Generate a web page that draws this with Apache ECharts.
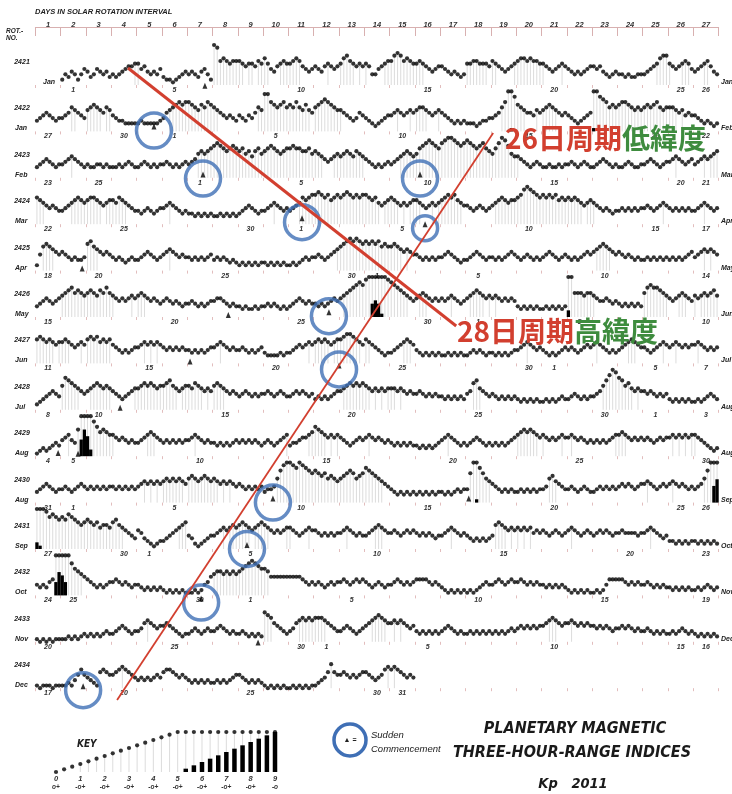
<!DOCTYPE html>
<html><head><meta charset="utf-8">
<script src="https://cdn.jsdelivr.net/npm/echarts@6/dist/echarts.min.js"></script>
<style>html,body{margin:0;padding:0;background:#fff;}#c{width:732px;height:794px;}</style>
</head><body><div id="c"></div>
<script>
// ---------------- DATA ----------------
const rotations = [2421,2422,2423,2424,2425,2426,2427,2428,2429,2430,2431,2432,2433,2434];
const startDates = ['2010-12-31','2011-01-27','2011-02-23','2011-03-22','2011-04-18','2011-05-15','2011-06-11',
  '2011-07-08','2011-08-04','2011-08-31','2011-09-27','2011-10-24','2011-11-20','2011-12-17'];
const dayNumbers = ['1','2','3','4','5','6','7','8','9','10','11','12','13','14','15','16','17','18','19','20','21','22','23','24','25','26','27'];
const monthNames = ['Jan','Feb','Mar','Apr','May','Jun','Jul','Aug','Sep','Oct','Nov','Dec'];
// Kp in thirds: 0=0o 1=0+ 2=1- 3=1o ... f=5o ... r=9o ; '.' = no data. 8 three-hour values per day.
const KP_CODES = '0123456789abcdefghijklmnopqr';
const kp2421 = "........ 24354246 53465453 43456778 86754546 32212345 45435642 fe9a9899 98788798 a8657898 89a97656 76578767 8ab98787 87446789 9bcb9a98 89876567 76545434 88998887 98765678 9aa9a998 87656787 65454567 76754345 44343344 45678abb 87678986 56789754";
const kp2422 = "45676545 56798765 89a98798 65443333 34333334 5789abab ba98a9ba 98765654 65465798 eeba9ab9 a9b98a87 9abcba98 87654576 54323456 67876787 89987678 76543434 33323445 5679bfgd a9877687 89a98767 65434567 gfdcb9a9 abba9898 9a9ab989 99878676 65434323";
const kp2423 = "45676545 56787654 54455454 44545654 45654545 56545456 5679a9ab cdcbabcb ab9a8ab9 abcba9ab bcbbaab9 a9876789 89a98a98 76545456 56789a98 9bcdedcb deffedcd edcbcdba 9bdfec98 87654565 44544545 56545654 45676545 44565445 56765456 67876567 5678789a";
const kp2424 = "a9876765 56789a98 9aa98789 98a98765 54565456 67876545 44343434 33434343 45676545 56787656 5678a9ab bcbab9ab abcbabab ba9a8789 a9878789 98767878 9abab987 76567656 789a9899 abdedcba babab9a9 a9a98789 87656545 56565656 67656787 65656565 56787656";
const kp2425 = "269a9876 76545445 ab987676 54543454 45676545 67876565 54545456 45454343 23232323 32323232 23234545 56545678 9abcbcba babab9a9 9a987876 65454545 56765434 45676545 54545676 54565454 56765456 54545676 789a9876 76565454 45454545 45454567 56787876";
const kp2426 = "45676567 89ab9a98 9a98a9b9 87676787 89876765 67656545 56545456 67765454 43433434 45454343 45676565 54545676 789abcdc efjkjgfe dcba9876 78987676 76787656 789a9878 78767676 43434343 34343434 hf999899 87667656 54545454 9bcbba98 76789876 878989a8";
const kp2427 = "9a989878 89876787 9a9a8989 76545456 67878787 65656565 54545456 67876565 56545456 43333434 45676787 89898789 9abba987 98765434 45678987 54343434 33434343 34545434 43434345 56787656 54343456 56545676 78765454 56789876 65456787 67876767 78765656";
const kp2428 = "23456765 9cba9876 789a9898 76545678 89a9a989 9ab98789 98a98787 9a987676 56765656 67656765 56767656 45454567 789a9a9a 98787878 88787676 67656565 54545454 67ab8765 65454545 43434343 34343454 45654545 5679bdfe cb9a8787 76765656 43434343 34345654";
const kp2429 = "12323454 67865akn lhdb9a98 87676565 56789876 56565656 67876565 54545456 56565654 56545678 45567789 ba987878 76545676 78767656 54545454 43434345 67876545 45676545 45454567 89a9a987 87676787 78767656 56565678 89876767 67656767 78787878 87654323";
const kp2430 = "45676545 56545676 56565656 65656565 67878787 89898987 9a989a98 98787876 76565656 45569cef fedfedcb cbab9a98 9abcb9ab dcba9876 54343434 34343434 43434545 5bfgdb98 76545454 45454545 569a8765 56545654 45656565 67676567 78765676 78767656 5679cfkm";
const kp2431 = "hgfecdcb cbdcba9a ba9a8998 ab987654 76432123 3456789a 54212345 56787898 9a98789a 98767678 87656787 76565656 67876565 56789876 67656767 65656545 56787656 54343434 59a98787 87878676 76567656 78765676 56767656 67666656 67876545 33232323 32323232";
const kp2432 = "434356jm ljfca987 65434345 56545434 43232323 21212121 11212457 89989898 9abcdcba a9777777 77776545 45434545 56545656 54345434 45654545 66665454 32121212 12123454 45654565 56545454 43434343 21212121 12124666 66545454 45434343 32323232 23234323";
const kp2433 = "10101011 11212123 23232343 34565434 45787656 67654323 34543454 45654343 34323232 ba976543 45789898 99987654 45654345 6789a987 78787656 43434343 45654343 34343434 34343454 56565656 67898767 78767676 65656545 56565454 45434343 34345434 32323232";
const kp2434 = "10111011 11213575 43216765 56787654 34343454 67765454 32323232 23232345 54323232 10101010 01010101 12346965 56545456 65434578 78765454 ........ ........ ........ ........ ........ ........ ........ ........ ........ ........ ........ ........";
const kpRows = [kp2421,kp2422,kp2423,kp2424,kp2425,kp2426,kp2427,kp2428,kp2429,kp2430,kp2431,kp2432,kp2433,kp2434];
// Sudden commencements: [row index, 3-hour position in rotation, level, circle size (0 = no circle)]
const sscEvents = [
  [1,37.5,0.1,35],[2,53.0,-0.1,35],[2,121.6,-0.1,35],[3,84.3,0.25,35],[3,123.2,-0.5,25],
  [5,92.8,0.1,35],[6,96.0,-0.75,35],[9,75.1,0,35],[10,66.9,0,35],[11,52.4,-0.9,35],[13,15.1,-0.25,35],
  [0,53.6,-0.6,0],[4,14.8,-0.25,0],[5,61,-0.25,0],[6,48.9,-0.25,0],[7,26.8,-0.25,0],
  [8,7.2,-0.1,0],[8,13.5,-0.2,0],[9,137,0,0],[12,70.4,-0.6,0]
];
// Recurrence trend lines: [day position, row position]
const trend28 = [[3.66,0.13],[16.63,5.69]];
const trend26 = [[3.23,13.75],[18.09,1.53]];
// Key
const keyCodes = '0123456789abcdefghijklmnopqr';
const keyTickLabels = ['0','1','2','3','4','5','6','7','8','9'];

// ---------------- LAYOUT ----------------
const LEFT = 35.35, RIGHT = 13.35, ROW0 = 62, ROWH = 46.4;
const F = "'Liberation Sans', Arial, sans-serif";
const FN = "'Liberation Sans Narrow','DejaVu Sans Condensed','Liberation Sans',sans-serif";
const CJK = "'Noto Sans CJK JP','Noto Sans CJK SC',sans-serif";
const RED = '#d23f2f', GREEN = '#3e8c3e', BLUE = '#3f6fb5';

function decodeRow(s){
  return Array.from(s.replace(/\s+/g,'')).map(ch => ch === '.' ? null : KP_CODES.indexOf(ch)/3);
}
function makeStem(barW, minStem){
  return function(params, api){
    const x = api.value(0), kp = api.value(1);
    const base = api.coord([x, 0]);
    const children = [];
    if (kp >= minStem) {
      const top = api.coord([x, Math.min(kp,5)]);
      children.push({type:'line', shape:{x1:base[0],y1:base[1],x2:top[0],y2:top[1]}, style:{stroke:'#cdcdcd', lineWidth:0.7}});
    }
    if (kp > 5) {
      const t = api.coord([x, (kp-5)*1.25]);
      children.push({type:'rect', shape:{x:base[0]-barW/2, y:t[1], width:barW, height:base[1]-t[1]}, style:{fill:'#000'}});
    }
    return {type:'group', children};
  };
}
function txt(x, y, text, size, opts){
  opts = opts || {};
  return {type:'text', x:x, y:y, z:50, silent:true, style:Object.assign({
    text:text, fontSize:size, fontFamily:opts.family || F, fontWeight:opts.weight || 'bold',
    fontStyle:opts.style || 'italic', fill:opts.fill || '#222',
    align:opts.align || 'left', textAlign:opts.align || 'left',
    verticalAlign:'middle', textVerticalAlign:'middle'
  }, opts.extra || {})};
}

const grids=[], xAxes=[], yAxes=[], series=[], graphics=[];
const DAY = 86400000;

kpRows.forEach((rowStr, r) => {
  const L = ROW0 + ROWH*r;
  const vals = decodeRow(rowStr);
  let first = 27, last = -1;
  for (let c=0;c<27;c++){ let has=false; for(let k=0;k<8;k++) if(vals[c*8+k]!=null) has=true; if(has){ if(c<first) first=c; last=c; } }
  const start = new Date(startDates[r]+'T00:00:00Z').getTime();
  const dateOf = c => new Date(start + c*DAY);
  const labels = dayNumbers.map((_, c) => {
    if (c < first || c > last) return '';
    const d = dateOf(c).getUTCDate();
    return (c===first || c===last || d%5===0 || d===1) ? String(d) : '';
  });
  grids.push({left:LEFT, right:RIGHT, top:L-25, height:48});
  const gi = grids.length-1;
  xAxes.push({type:'value', gridIndex:gi, min:0, max:216, show:false, position:'top'});
  const xv = xAxes.length-1;
  xAxes.push({type:'category', gridIndex:gi, position:'bottom', data:dayNumbers, boundaryGap:true,
    axisLine:{show:false},
    axisTick:{show:true, interval:0, length:3, lineStyle:{color:'#e2bdbd', width:1}},
    axisLabel:{interval:0, margin:1.5, fontSize:7, fontStyle:'italic', fontWeight:'bold', fontFamily:F, color:'#333',
      formatter:(v,i)=>labels[i]},
    splitLine:{show:false}});
  yAxes.push({type:'value', gridIndex:gi, min:0, max:6, show:false});
  const yi = yAxes.length-1;
  const pts = [];
  vals.forEach((k,i)=>{ if(k!=null) pts.push([i+0.5, k]); });
  series.push({type:'custom', xAxisIndex:xv, yAxisIndex:yi, renderItem:makeStem(3.3, 2.6), data:pts,
    encode:{x:0,y:1}, clip:false, silent:true, z:1, animation:false});
  series.push({type:'scatter', xAxisIndex:xv, yAxisIndex:yi, data:pts.map(p=>[p[0], Math.min(p[1],5)]),
    symbol:'circle', symbolSize:4.2, itemStyle:{color:'#000'}, silent:true, clip:false, z:3, animation:false});
  const ev = sscEvents.filter(e=>e[0]===r);
  if (ev.length){
    series.push({type:'scatter', xAxisIndex:xv, yAxisIndex:yi, data:ev.map(e=>[e[1], e[2]+0.5]),
      symbol:'triangle', symbolSize:[5,6], itemStyle:{color:'#000'}, silent:true, clip:false, z:4, animation:false});
    const circ = ev.filter(e=>e[3]>0);
    if (circ.length) series.push({type:'scatter', xAxisIndex:xv, yAxisIndex:yi,
      data:circ.map(e=>({value:[e[1], e[2]], symbolSize:e[3]})),
      symbol:'circle', itemStyle:{color:'rgba(0,0,0,0)', borderColor:BLUE, borderWidth:3.5},
      silent:true, clip:false, z:6, animation:false});
  }
  // row texts
  graphics.push(txt(22, L, String(rotations[r]), 7, {align:'center'}));
  graphics.push(txt(first===0 ? 15 : 43, L+20, monthNames[dateOf(first).getUTCMonth()], 7));
  if (last === 26) graphics.push(txt(721, L+20, monthNames[dateOf(26).getUTCMonth()], 7));
});

// header axis
grids.push({left:LEFT, right:RIGHT, top:17, height:10});
let gi = grids.length-1;
xAxes.push({type:'category', gridIndex:gi, position:'top', data:dayNumbers, boundaryGap:true,
  axisLine:{show:true, lineStyle:{color:'#d8b0b0', width:1}},
  axisTick:{show:true, inside:true, interval:0, length:9, lineStyle:{color:'#d8b0b0'}},
  axisLabel:{inside:true, interval:0, margin:3.5, fontSize:7.5, fontStyle:'italic', fontWeight:'bold', fontFamily:F, color:'#333'}});
yAxes.push({type:'value', gridIndex:gi, show:false});
series.push({type:'scatter', xAxisIndex:xAxes.length-1, yAxisIndex:yAxes.length-1, data:[], silent:true});

// overlay for trend lines
grids.push({left:LEFT, right:RIGHT, top:ROW0, height:ROWH*14});
gi = grids.length-1;
xAxes.push({type:'value', gridIndex:gi, min:0, max:27, show:false});
yAxes.push({type:'value', gridIndex:gi, min:0, max:14, inverse:true, show:false});
const ox = xAxes.length-1, oy = yAxes.length-1;
series.push({type:'line', xAxisIndex:ox, yAxisIndex:oy, data:trend28, symbol:'none', silent:true, clip:false,
  lineStyle:{color:RED, width:3}, z:8, animation:false});
series.push({type:'line', xAxisIndex:ox, yAxisIndex:oy, data:trend26, symbol:'none', silent:true, clip:false,
  lineStyle:{color:RED, width:1.8}, z:8, animation:false});

// key
grids.push({left:56, right:457, top:724, height:48});
gi = grids.length-1;
xAxes.push({type:'value', gridIndex:gi, min:0, max:9, interval:1,
  axisLine:{show:false}, axisTick:{show:false}, splitLine:{show:false},
  axisLabel:{margin:2, color:'#333', formatter:(v)=>{
      const i = Math.round(v); const sub = i===0 ? 'o+' : (i===9 ? '-o' : '-o+');
      return '{a|'+keyTickLabels[i]+'}\n{b|'+sub+'}'; },
    rich:{a:{fontSize:7.5, fontWeight:'bold', fontStyle:'italic', fontFamily:F, color:'#333', lineHeight:9},
          b:{fontSize:6.5, fontWeight:'bold', fontStyle:'italic', fontFamily:F, color:'#333', lineHeight:8}}}});
yAxes.push({type:'value', gridIndex:gi, min:0, max:6, show:false});
const kx = xAxes.length-1, ky = yAxes.length-1;
const keyVals = Array.from(keyCodes).map(ch => KP_CODES.indexOf(ch)/3);
series.push({type:'custom', xAxisIndex:kx, yAxisIndex:ky, renderItem:makeStem(4.5, 1), data:keyVals.map(v=>[v,v]),
  encode:{x:0,y:1}, clip:false, silent:true, z:1, animation:false});
series.push({type:'scatter', xAxisIndex:kx, yAxisIndex:ky, data:keyVals.map(v=>[v, Math.min(v,5)]),
  symbolSize:4.2, itemStyle:{color:'#000'}, silent:true, clip:false, z:3, animation:false});

// static texts
graphics.push(txt(35, 12, 'DAYS IN SOLAR ROTATION INTERVAL', 7.5));
graphics.push({type:'text', x:6, y:28, z:50, silent:true, style:{text:'ROT.-\nNO.', fontSize:6.5, lineHeight:6.5,
  fontFamily:F, fontWeight:'bold', fontStyle:'italic', fill:'#222', align:'left', verticalAlign:'top'}});
graphics.push(txt(77, 744, 'KEY', 10, {family:FN}));
graphics.push({type:'circle', z:50, silent:true, shape:{cx:350, cy:740, r:16}, style:{fill:'none', stroke:BLUE, lineWidth:3.5}});
graphics.push(txt(350, 740, '\u25B2 =', 7, {align:'center', style:'normal'}));
graphics.push(txt(371, 735, 'Sudden', 9.5, {weight:'normal'}));
graphics.push(txt(371, 749, 'Commencement', 9.5, {weight:'normal'}));
graphics.push(txt(575, 729, 'PLANETARY MAGNETIC', 16, {family:FN, align:'center', fill:'#1a1a1a'}));
graphics.push(txt(572, 753, 'THREE-HOUR-RANGE INDICES', 16, {family:FN, align:'center', fill:'#1a1a1a'}));
graphics.push(txt(573, 784, 'Kp   2011', 14.5, {family:FN, align:'center', fill:'#1a1a1a'}));
graphics.push({type:'text', x:457, y:331, z:60, silent:true, style:{text:'{r|28日周期}{g|高緯度}', verticalAlign:'middle', textVerticalAlign:'middle',
  rich:{r:{fill:RED, color:RED, fontSize:28, fontWeight:'bold', fontFamily:CJK}, g:{fill:GREEN, color:GREEN, fontSize:28, fontWeight:'bold', fontFamily:CJK}}}});
graphics.push({type:'text', x:505, y:138, z:60, silent:true, style:{text:'{r|26日周期}{g|低緯度}', verticalAlign:'middle', textVerticalAlign:'middle',
  rich:{r:{fill:RED, color:RED, fontSize:28, fontWeight:'bold', fontFamily:CJK}, g:{fill:GREEN, color:GREEN, fontSize:28, fontWeight:'bold', fontFamily:CJK}}}});

const chart = echarts.init(document.getElementById('c'), null, {width:732, height:794});
chart.setOption({
  backgroundColor:'#ffffff', animation:false,
  grid:grids, xAxis:xAxes, yAxis:yAxes, series:series, graphic:graphics
});
</script></body></html>
